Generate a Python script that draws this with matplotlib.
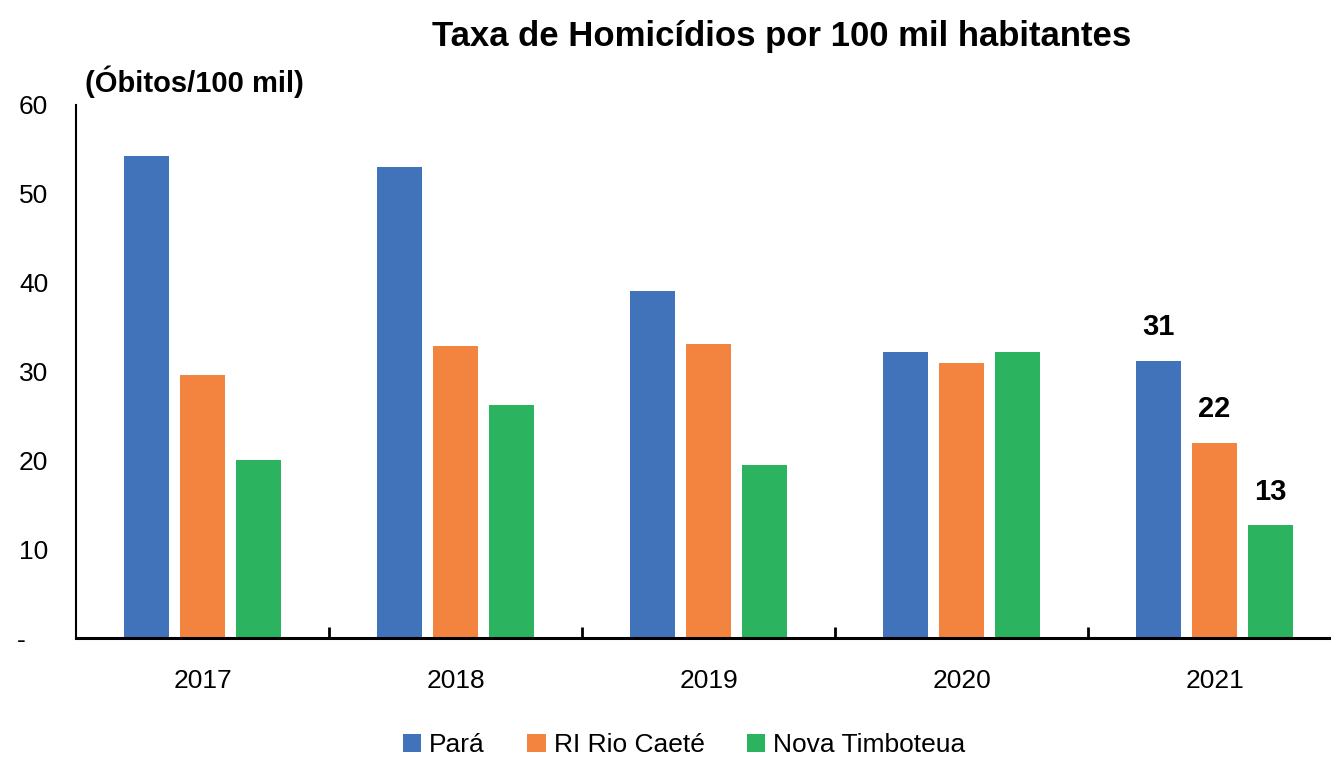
import matplotlib.pyplot as plt
import numpy as np

years = ['2017', '2018', '2019', '2020', '2021']
para = [54.2, 53.0, 39.1, 32.2, 31.2]
rio_caete = [29.6, 32.9, 33.1, 31.0, 22.0]
nova_timboteua = [20.0, 26.2, 19.5, 32.2, 12.7]
series_names = ['Pará', 'RI Rio Caeté', 'Nova Timboteua']
colors = ['#4073b9', '#f3843f', '#2bb35f']
last_labels = ['31', '22', '13']

plt.rcParams['font.family'] = ['Liberation Sans', 'DejaVu Sans']

fig = plt.figure(figsize=(13.31, 7.59), dpi=100)
ax = fig.add_axes([0.0571, 0.1594, 0.9429, 0.7023])

x = np.arange(len(years))
width = 0.178
offset = 0.222
for i, (vals, name, c) in enumerate(zip([para, rio_caete, nova_timboteua], series_names, colors)):
    ax.bar(x + (i - 1) * offset, vals, width, color=c, label=name)
    ax.text(x[-1] + (i - 1) * offset, vals[-1] + 2.2, last_labels[i],
            ha='center', va='bottom', fontsize=21, fontweight='bold')

ax.set_xlim(-0.5, 4.46)
ax.set_ylim(0, 60)
ax.set_yticks(range(0, 61, 10))
ax.set_yticklabels(['-   '] + [str(v) for v in range(10, 61, 10)], fontsize=19)
ax.tick_params(axis='y', length=0, pad=20)
ax.set_xticks(x)
ax.set_xticklabels(years, fontsize=19)
ax.tick_params(axis='x', length=0, pad=22)
ax.set_xticks(np.arange(0.5, 4.5, 1), minor=True)
ax.tick_params(axis='x', which='minor', direction='in', length=8, width=2)

for s in ['top', 'right']:
    ax.spines[s].set_visible(False)
ax.spines['left'].set_linewidth(1.5)
ax.spines['bottom'].set_linewidth(2.2)

fig.text(0.587, 0.952, 'Taxa de Homicídios por 100 mil habitantes',
         ha='center', va='center', fontsize=25, fontweight='bold')
fig.text(0.064, 0.892, '(Óbitos/100 mil)', ha='left', va='center',
         fontsize=21, fontweight='bold')

fig.legend(loc='center', bbox_to_anchor=(0.514, 0.018), ncol=3,
           frameon=False, fontsize=19, handlelength=0.7, handleheight=0.7,
           handletextpad=0.3, columnspacing=1.6)

fig.savefig('out.png', dpi=100)
